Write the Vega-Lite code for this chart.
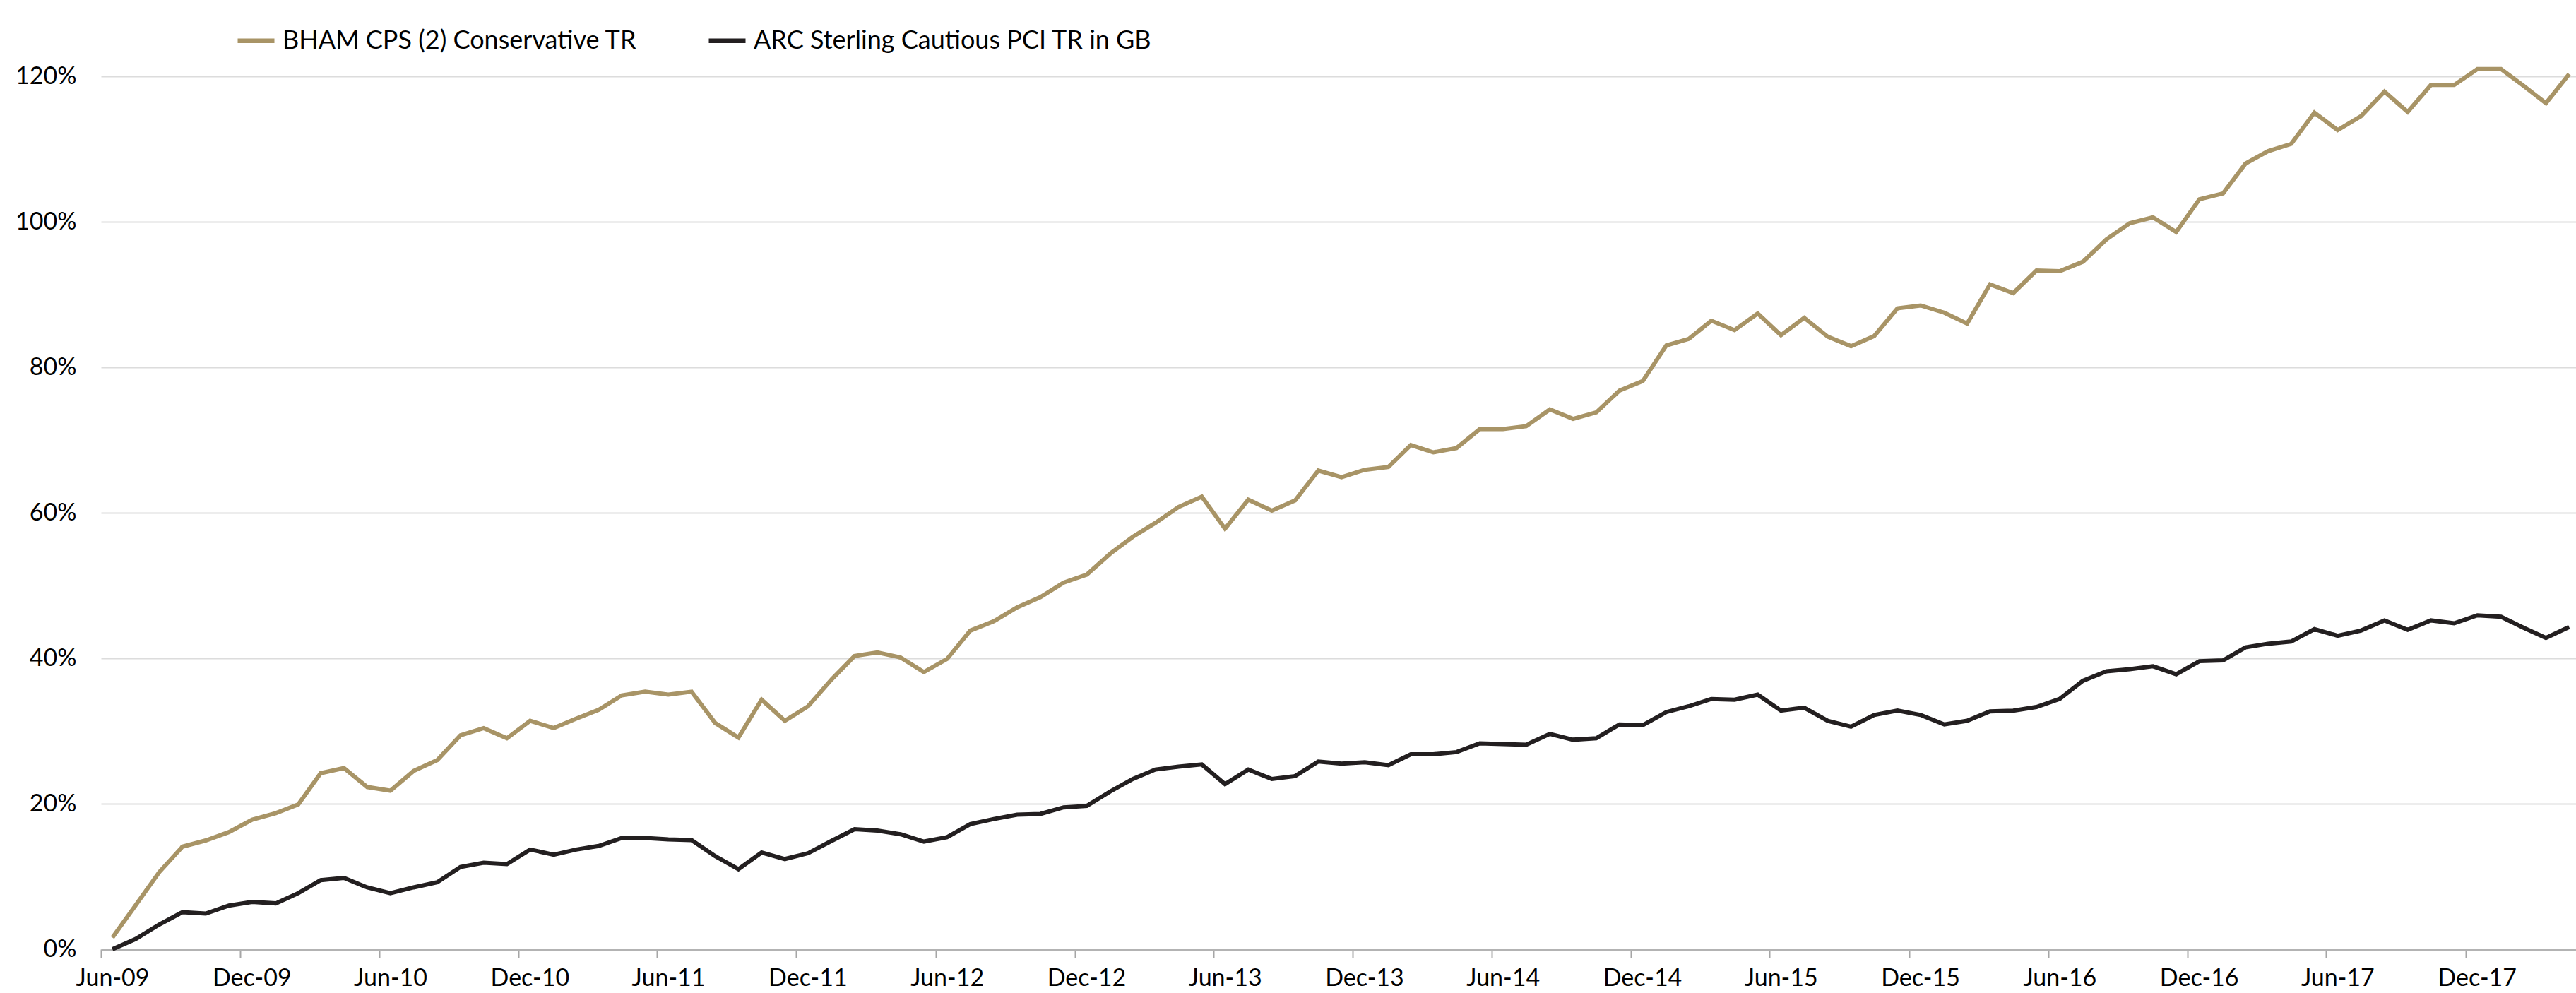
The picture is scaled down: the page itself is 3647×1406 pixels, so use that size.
{
  "$schema": "https://vega.github.io/schema/vega-lite/v6.json",
  "width": 3504,
  "height": 1236,
  "autosize": {"type": "none"},
  "padding": {"left": 143, "top": 108, "right": 0, "bottom": 62},
  "background": "white",
  "config": {"font": "Lato", "view": {"stroke": null}},
  "data": {
    "values": [
      {"month": "2009-06", "BHAM CPS (2) Conservative TR": 1.6, "ARC Sterling Cautious PCI TR in GB": 0.0},
      {"month": "2009-07", "BHAM CPS (2) Conservative TR": 6.05, "ARC Sterling Cautious PCI TR in GB": 1.4},
      {"month": "2009-08", "BHAM CPS (2) Conservative TR": 10.6, "ARC Sterling Cautious PCI TR in GB": 3.4},
      {"month": "2009-09", "BHAM CPS (2) Conservative TR": 14.1, "ARC Sterling Cautious PCI TR in GB": 5.1},
      {"month": "2009-10", "BHAM CPS (2) Conservative TR": 14.95, "ARC Sterling Cautious PCI TR in GB": 4.9},
      {"month": "2009-11", "BHAM CPS (2) Conservative TR": 16.1, "ARC Sterling Cautious PCI TR in GB": 6.0},
      {"month": "2009-12", "BHAM CPS (2) Conservative TR": 17.8, "ARC Sterling Cautious PCI TR in GB": 6.5},
      {"month": "2010-01", "BHAM CPS (2) Conservative TR": 18.7, "ARC Sterling Cautious PCI TR in GB": 6.3},
      {"month": "2010-02", "BHAM CPS (2) Conservative TR": 19.9, "ARC Sterling Cautious PCI TR in GB": 7.7},
      {"month": "2010-03", "BHAM CPS (2) Conservative TR": 24.2, "ARC Sterling Cautious PCI TR in GB": 9.5},
      {"month": "2010-04", "BHAM CPS (2) Conservative TR": 24.9, "ARC Sterling Cautious PCI TR in GB": 9.8},
      {"month": "2010-05", "BHAM CPS (2) Conservative TR": 22.3, "ARC Sterling Cautious PCI TR in GB": 8.5},
      {"month": "2010-06", "BHAM CPS (2) Conservative TR": 21.8, "ARC Sterling Cautious PCI TR in GB": 7.7},
      {"month": "2010-07", "BHAM CPS (2) Conservative TR": 24.5, "ARC Sterling Cautious PCI TR in GB": 8.5},
      {"month": "2010-08", "BHAM CPS (2) Conservative TR": 26.0, "ARC Sterling Cautious PCI TR in GB": 9.2},
      {"month": "2010-09", "BHAM CPS (2) Conservative TR": 29.4, "ARC Sterling Cautious PCI TR in GB": 11.3},
      {"month": "2010-10", "BHAM CPS (2) Conservative TR": 30.4, "ARC Sterling Cautious PCI TR in GB": 11.9},
      {"month": "2010-11", "BHAM CPS (2) Conservative TR": 29.0, "ARC Sterling Cautious PCI TR in GB": 11.7},
      {"month": "2010-12", "BHAM CPS (2) Conservative TR": 31.4, "ARC Sterling Cautious PCI TR in GB": 13.7},
      {"month": "2011-01", "BHAM CPS (2) Conservative TR": 30.4, "ARC Sterling Cautious PCI TR in GB": 13.0},
      {"month": "2011-02", "BHAM CPS (2) Conservative TR": 31.7, "ARC Sterling Cautious PCI TR in GB": 13.7},
      {"month": "2011-03", "BHAM CPS (2) Conservative TR": 32.9, "ARC Sterling Cautious PCI TR in GB": 14.2},
      {"month": "2011-04", "BHAM CPS (2) Conservative TR": 34.9, "ARC Sterling Cautious PCI TR in GB": 15.3},
      {"month": "2011-05", "BHAM CPS (2) Conservative TR": 35.4, "ARC Sterling Cautious PCI TR in GB": 15.3},
      {"month": "2011-06", "BHAM CPS (2) Conservative TR": 35.0, "ARC Sterling Cautious PCI TR in GB": 15.1},
      {"month": "2011-07", "BHAM CPS (2) Conservative TR": 35.4, "ARC Sterling Cautious PCI TR in GB": 15.0},
      {"month": "2011-08", "BHAM CPS (2) Conservative TR": 31.1, "ARC Sterling Cautious PCI TR in GB": 12.8},
      {"month": "2011-09", "BHAM CPS (2) Conservative TR": 29.1, "ARC Sterling Cautious PCI TR in GB": 11.0},
      {"month": "2011-10", "BHAM CPS (2) Conservative TR": 34.3, "ARC Sterling Cautious PCI TR in GB": 13.3},
      {"month": "2011-11", "BHAM CPS (2) Conservative TR": 31.4, "ARC Sterling Cautious PCI TR in GB": 12.4},
      {"month": "2011-12", "BHAM CPS (2) Conservative TR": 33.4, "ARC Sterling Cautious PCI TR in GB": 13.2},
      {"month": "2012-01", "BHAM CPS (2) Conservative TR": 37.1, "ARC Sterling Cautious PCI TR in GB": 14.9},
      {"month": "2012-02", "BHAM CPS (2) Conservative TR": 40.3, "ARC Sterling Cautious PCI TR in GB": 16.5},
      {"month": "2012-03", "BHAM CPS (2) Conservative TR": 40.8, "ARC Sterling Cautious PCI TR in GB": 16.3},
      {"month": "2012-04", "BHAM CPS (2) Conservative TR": 40.1, "ARC Sterling Cautious PCI TR in GB": 15.8},
      {"month": "2012-05", "BHAM CPS (2) Conservative TR": 38.1, "ARC Sterling Cautious PCI TR in GB": 14.8},
      {"month": "2012-06", "BHAM CPS (2) Conservative TR": 39.9, "ARC Sterling Cautious PCI TR in GB": 15.4},
      {"month": "2012-07", "BHAM CPS (2) Conservative TR": 43.8, "ARC Sterling Cautious PCI TR in GB": 17.2},
      {"month": "2012-08", "BHAM CPS (2) Conservative TR": 45.1, "ARC Sterling Cautious PCI TR in GB": 17.9},
      {"month": "2012-09", "BHAM CPS (2) Conservative TR": 47.0, "ARC Sterling Cautious PCI TR in GB": 18.5},
      {"month": "2012-10", "BHAM CPS (2) Conservative TR": 48.4, "ARC Sterling Cautious PCI TR in GB": 18.6},
      {"month": "2012-11", "BHAM CPS (2) Conservative TR": 50.4, "ARC Sterling Cautious PCI TR in GB": 19.5},
      {"month": "2012-12", "BHAM CPS (2) Conservative TR": 51.5, "ARC Sterling Cautious PCI TR in GB": 19.7},
      {"month": "2013-01", "BHAM CPS (2) Conservative TR": 54.4, "ARC Sterling Cautious PCI TR in GB": 21.7},
      {"month": "2013-02", "BHAM CPS (2) Conservative TR": 56.7, "ARC Sterling Cautious PCI TR in GB": 23.4},
      {"month": "2013-03", "BHAM CPS (2) Conservative TR": 58.6, "ARC Sterling Cautious PCI TR in GB": 24.7},
      {"month": "2013-04", "BHAM CPS (2) Conservative TR": 60.8, "ARC Sterling Cautious PCI TR in GB": 25.1},
      {"month": "2013-05", "BHAM CPS (2) Conservative TR": 62.2, "ARC Sterling Cautious PCI TR in GB": 25.4},
      {"month": "2013-06", "BHAM CPS (2) Conservative TR": 57.8, "ARC Sterling Cautious PCI TR in GB": 22.7},
      {"month": "2013-07", "BHAM CPS (2) Conservative TR": 61.8, "ARC Sterling Cautious PCI TR in GB": 24.7},
      {"month": "2013-08", "BHAM CPS (2) Conservative TR": 60.3, "ARC Sterling Cautious PCI TR in GB": 23.4},
      {"month": "2013-09", "BHAM CPS (2) Conservative TR": 61.7, "ARC Sterling Cautious PCI TR in GB": 23.8},
      {"month": "2013-10", "BHAM CPS (2) Conservative TR": 65.8, "ARC Sterling Cautious PCI TR in GB": 25.8},
      {"month": "2013-11", "BHAM CPS (2) Conservative TR": 64.9, "ARC Sterling Cautious PCI TR in GB": 25.5},
      {"month": "2013-12", "BHAM CPS (2) Conservative TR": 65.9, "ARC Sterling Cautious PCI TR in GB": 25.7},
      {"month": "2014-01", "BHAM CPS (2) Conservative TR": 66.3, "ARC Sterling Cautious PCI TR in GB": 25.3},
      {"month": "2014-02", "BHAM CPS (2) Conservative TR": 69.3, "ARC Sterling Cautious PCI TR in GB": 26.8},
      {"month": "2014-03", "BHAM CPS (2) Conservative TR": 68.3, "ARC Sterling Cautious PCI TR in GB": 26.8},
      {"month": "2014-04", "BHAM CPS (2) Conservative TR": 68.9, "ARC Sterling Cautious PCI TR in GB": 27.1},
      {"month": "2014-05", "BHAM CPS (2) Conservative TR": 71.5, "ARC Sterling Cautious PCI TR in GB": 28.3},
      {"month": "2014-06", "BHAM CPS (2) Conservative TR": 71.5, "ARC Sterling Cautious PCI TR in GB": 28.2},
      {"month": "2014-07", "BHAM CPS (2) Conservative TR": 71.9, "ARC Sterling Cautious PCI TR in GB": 28.1},
      {"month": "2014-08", "BHAM CPS (2) Conservative TR": 74.2, "ARC Sterling Cautious PCI TR in GB": 29.6},
      {"month": "2014-09", "BHAM CPS (2) Conservative TR": 72.9, "ARC Sterling Cautious PCI TR in GB": 28.8},
      {"month": "2014-10", "BHAM CPS (2) Conservative TR": 73.8, "ARC Sterling Cautious PCI TR in GB": 29.0},
      {"month": "2014-11", "BHAM CPS (2) Conservative TR": 76.8, "ARC Sterling Cautious PCI TR in GB": 30.9},
      {"month": "2014-12", "BHAM CPS (2) Conservative TR": 78.1, "ARC Sterling Cautious PCI TR in GB": 30.8},
      {"month": "2015-01", "BHAM CPS (2) Conservative TR": 83.0, "ARC Sterling Cautious PCI TR in GB": 32.6},
      {"month": "2015-02", "BHAM CPS (2) Conservative TR": 83.9, "ARC Sterling Cautious PCI TR in GB": 33.4},
      {"month": "2015-03", "BHAM CPS (2) Conservative TR": 86.4, "ARC Sterling Cautious PCI TR in GB": 34.4},
      {"month": "2015-04", "BHAM CPS (2) Conservative TR": 85.1, "ARC Sterling Cautious PCI TR in GB": 34.3},
      {"month": "2015-05", "BHAM CPS (2) Conservative TR": 87.4, "ARC Sterling Cautious PCI TR in GB": 35.0},
      {"month": "2015-06", "BHAM CPS (2) Conservative TR": 84.4, "ARC Sterling Cautious PCI TR in GB": 32.8},
      {"month": "2015-07", "BHAM CPS (2) Conservative TR": 86.8, "ARC Sterling Cautious PCI TR in GB": 33.2},
      {"month": "2015-08", "BHAM CPS (2) Conservative TR": 84.2, "ARC Sterling Cautious PCI TR in GB": 31.4},
      {"month": "2015-09", "BHAM CPS (2) Conservative TR": 82.9, "ARC Sterling Cautious PCI TR in GB": 30.6},
      {"month": "2015-10", "BHAM CPS (2) Conservative TR": 84.3, "ARC Sterling Cautious PCI TR in GB": 32.2},
      {"month": "2015-11", "BHAM CPS (2) Conservative TR": 88.1, "ARC Sterling Cautious PCI TR in GB": 32.8},
      {"month": "2015-12", "BHAM CPS (2) Conservative TR": 88.5, "ARC Sterling Cautious PCI TR in GB": 32.2},
      {"month": "2016-01", "BHAM CPS (2) Conservative TR": 87.5, "ARC Sterling Cautious PCI TR in GB": 30.9},
      {"month": "2016-02", "BHAM CPS (2) Conservative TR": 86.0, "ARC Sterling Cautious PCI TR in GB": 31.4},
      {"month": "2016-03", "BHAM CPS (2) Conservative TR": 91.4, "ARC Sterling Cautious PCI TR in GB": 32.7},
      {"month": "2016-04", "BHAM CPS (2) Conservative TR": 90.2, "ARC Sterling Cautious PCI TR in GB": 32.8},
      {"month": "2016-05", "BHAM CPS (2) Conservative TR": 93.3, "ARC Sterling Cautious PCI TR in GB": 33.3},
      {"month": "2016-06", "BHAM CPS (2) Conservative TR": 93.2, "ARC Sterling Cautious PCI TR in GB": 34.4},
      {"month": "2016-07", "BHAM CPS (2) Conservative TR": 94.5, "ARC Sterling Cautious PCI TR in GB": 36.9},
      {"month": "2016-08", "BHAM CPS (2) Conservative TR": 97.6, "ARC Sterling Cautious PCI TR in GB": 38.2},
      {"month": "2016-09", "BHAM CPS (2) Conservative TR": 99.8, "ARC Sterling Cautious PCI TR in GB": 38.5},
      {"month": "2016-10", "BHAM CPS (2) Conservative TR": 100.6, "ARC Sterling Cautious PCI TR in GB": 38.9},
      {"month": "2016-11", "BHAM CPS (2) Conservative TR": 98.6, "ARC Sterling Cautious PCI TR in GB": 37.8},
      {"month": "2016-12", "BHAM CPS (2) Conservative TR": 103.1, "ARC Sterling Cautious PCI TR in GB": 39.6},
      {"month": "2017-01", "BHAM CPS (2) Conservative TR": 103.9, "ARC Sterling Cautious PCI TR in GB": 39.7},
      {"month": "2017-02", "BHAM CPS (2) Conservative TR": 108.0, "ARC Sterling Cautious PCI TR in GB": 41.5},
      {"month": "2017-03", "BHAM CPS (2) Conservative TR": 109.7, "ARC Sterling Cautious PCI TR in GB": 42.0},
      {"month": "2017-04", "BHAM CPS (2) Conservative TR": 110.7, "ARC Sterling Cautious PCI TR in GB": 42.3},
      {"month": "2017-05", "BHAM CPS (2) Conservative TR": 115.0, "ARC Sterling Cautious PCI TR in GB": 44.0},
      {"month": "2017-06", "BHAM CPS (2) Conservative TR": 112.6, "ARC Sterling Cautious PCI TR in GB": 43.1},
      {"month": "2017-07", "BHAM CPS (2) Conservative TR": 114.5, "ARC Sterling Cautious PCI TR in GB": 43.8},
      {"month": "2017-08", "BHAM CPS (2) Conservative TR": 117.9, "ARC Sterling Cautious PCI TR in GB": 45.2},
      {"month": "2017-09", "BHAM CPS (2) Conservative TR": 115.1, "ARC Sterling Cautious PCI TR in GB": 43.9},
      {"month": "2017-10", "BHAM CPS (2) Conservative TR": 118.8, "ARC Sterling Cautious PCI TR in GB": 45.2},
      {"month": "2017-11", "BHAM CPS (2) Conservative TR": 118.8, "ARC Sterling Cautious PCI TR in GB": 44.8},
      {"month": "2017-12", "BHAM CPS (2) Conservative TR": 121.0, "ARC Sterling Cautious PCI TR in GB": 45.9},
      {"month": "2018-01", "BHAM CPS (2) Conservative TR": 121.0, "ARC Sterling Cautious PCI TR in GB": 45.7},
      {"month": "2018-02", "BHAM CPS (2) Conservative TR": 118.7, "ARC Sterling Cautious PCI TR in GB": 44.2},
      {"month": "2018-03", "BHAM CPS (2) Conservative TR": 116.3, "ARC Sterling Cautious PCI TR in GB": 42.8},
      {"month": "2018-04", "BHAM CPS (2) Conservative TR": 120.3, "ARC Sterling Cautious PCI TR in GB": 44.3}
    ]
  },
  "transform": [
    {"fold": ["BHAM CPS (2) Conservative TR", "ARC Sterling Cautious PCI TR in GB"], "as": ["series", "value"]}
  ],
  "mark": {"type": "line", "strokeWidth": 6},
  "encoding": {
    "x": {
      "field": "month",
      "timeUnit": "utcyearmonth",
      "type": "temporal",
      "bandPosition": 0.5,
      "scale": {
        "domain": [
          {"year": 2009, "month": 6, "date": 1, "utc": true},
          {"year": 2018, "month": 4, "date": 25, "utc": true}
        ]
      },
      "axis": {
        "title": null,
        "values": [
          {"year": 2009, "month": 6, "date": 1, "utc": true},
          {"year": 2009, "month": 12, "date": 1, "utc": true},
          {"year": 2010, "month": 6, "date": 1, "utc": true},
          {"year": 2010, "month": 12, "date": 1, "utc": true},
          {"year": 2011, "month": 6, "date": 1, "utc": true},
          {"year": 2011, "month": 12, "date": 1, "utc": true},
          {"year": 2012, "month": 6, "date": 1, "utc": true},
          {"year": 2012, "month": 12, "date": 1, "utc": true},
          {"year": 2013, "month": 6, "date": 1, "utc": true},
          {"year": 2013, "month": 12, "date": 1, "utc": true},
          {"year": 2014, "month": 6, "date": 1, "utc": true},
          {"year": 2014, "month": 12, "date": 1, "utc": true},
          {"year": 2015, "month": 6, "date": 1, "utc": true},
          {"year": 2015, "month": 12, "date": 1, "utc": true},
          {"year": 2016, "month": 6, "date": 1, "utc": true},
          {"year": 2016, "month": 12, "date": 1, "utc": true},
          {"year": 2017, "month": 6, "date": 1, "utc": true},
          {"year": 2017, "month": 12, "date": 1, "utc": true}
        ],
        "format": "%b-%y",
        "grid": false,
        "domainColor": "#b3b3b3",
        "domainWidth": 3,
        "tickColor": "#a6a6a6",
        "tickWidth": 2,
        "tickSize": 12,
        "labelFont": "Lato",
        "labelFontSize": 34,
        "labelColor": "#000000",
        "labelBaseline": "alphabetic",
        "labelPadding": 39,
        "labelOffset": 16,
        "labelAlign": "center",
        "labelFlush": false,
        "labelOverlap": false
      }
    },
    "y": {
      "field": "value",
      "type": "quantitative",
      "scale": {"domain": [0, 120], "nice": false},
      "axis": {
        "title": null,
        "values": [0, 20, 40, 60, 80, 100, 120],
        "labelExpr": "datum.value + '%'",
        "domain": false,
        "ticks": false,
        "gridColor": "#dcdcdc",
        "gridWidth": 2,
        "labelFont": "Lato",
        "labelFontSize": 34,
        "labelColor": "#000000",
        "labelPadding": 35
      }
    },
    "color": {
      "field": "series",
      "type": "nominal",
      "scale": {
        "domain": ["BHAM CPS (2) Conservative TR", "ARC Sterling Cautious PCI TR in GB"],
        "range": ["#A89466", "#231F20"]
      },
      "legend": {
        "title": null,
        "orient": "none",
        "legendX": 190,
        "legendY": -80,
        "direction": "horizontal",
        "symbolType": "stroke",
        "symbolSize": 2704,
        "symbolStrokeWidth": 6.5,
        "labelFont": "Lato",
        "labelFontSize": 36,
        "labelColor": "#000000",
        "labelOffset": 8,
        "labelLimit": 1000,
        "columnPadding": 88,
        "padding": 0
      }
    }
  }
}
